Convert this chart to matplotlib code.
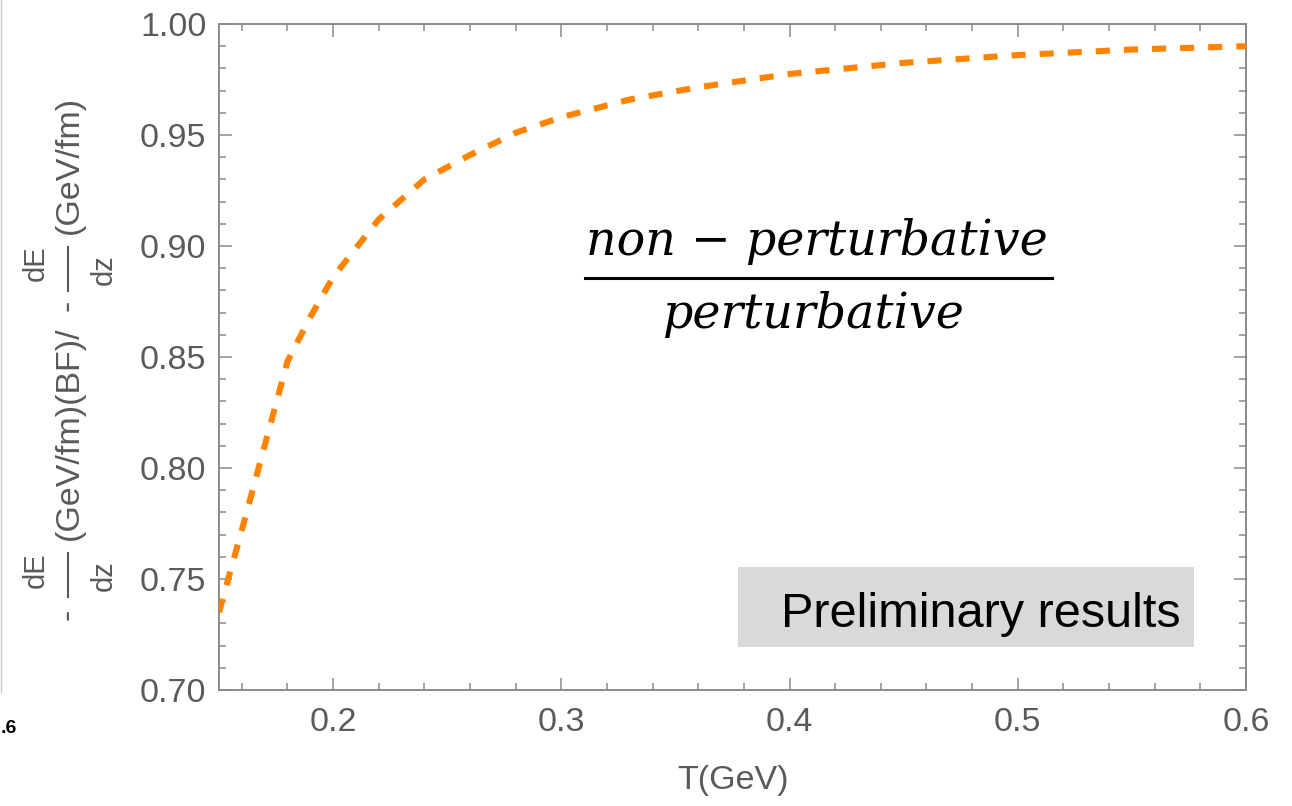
import matplotlib
matplotlib.use("Agg")
import matplotlib.pyplot as plt
from matplotlib.lines import Line2D
from matplotlib.patches import Rectangle
from matplotlib.ticker import MultipleLocator, FormatStrFormatter

# ---- data ----
T_values = [0.15, 0.16, 0.17, 0.18, 0.19, 0.20, 0.22, 0.24, 0.26, 0.28,
            0.30, 0.33, 0.36, 0.40, 0.45, 0.50, 0.55, 0.60]
ratio_values = [0.735, 0.772, 0.810, 0.848, 0.868, 0.886, 0.912, 0.930, 0.941,
                0.951, 0.958, 0.966, 0.9715, 0.9775, 0.9825, 0.986, 0.9885, 0.990]
x_label = "T(GeV)"
annotation_num = "non \u2212 perturbative"
annotation_den = "perturbative"
badge_text = "Preliminary results"

W, H = 1292, 806
fig = plt.figure(figsize=(W / 100, H / 100), dpi=100)
fig.patch.set_facecolor("white")


def fx(x):
    return x / W


def fy(y):
    return 1 - y / H


GRAY = "#5a5a5a"
SPINE = "#8a8a8a"
SANS = "Liberation Sans"

ax = fig.add_axes([fx(219), fy(690), (1246 - 219) / W, (690 - 24) / H])
ax.plot(T_values, ratio_values, color="#ff8200", lw=4.4, dashes=(2.3, 2.3),
        dash_capstyle="butt", zorder=3)
ax.set_xlim(0.15, 0.6)
ax.set_ylim(0.70, 1.00)

ax.xaxis.set_major_locator(MultipleLocator(0.1))
ax.xaxis.set_minor_locator(MultipleLocator(0.02))
ax.yaxis.set_major_locator(MultipleLocator(0.05))
ax.yaxis.set_minor_locator(MultipleLocator(0.01))
ax.xaxis.set_major_formatter(FormatStrFormatter("%.1f"))
ax.yaxis.set_major_formatter(FormatStrFormatter("%.2f"))

for s in ax.spines.values():
    s.set_color(SPINE)
    s.set_linewidth(1.4)

ax.tick_params(which="both", direction="in", top=True, right=True,
               color=SPINE, width=1.1)
ax.tick_params(which="major", length=9)
ax.tick_params(which="minor", length=5)
ax.tick_params(axis="x", which="major", pad=12, labelsize=24.5, labelcolor=GRAY)
ax.tick_params(axis="y", which="major", pad=9, labelsize=24.5, labelcolor=GRAY)
for lab in ax.get_xticklabels() + ax.get_yticklabels():
    lab.set_fontfamily(SANS)

ax.set_xlabel(x_label, fontsize=24.5, color=GRAY, family=SANS)
ax.xaxis.set_label_coords(0.5, -0.112)

# ---- composite rotated y label ----
def rtext(x, y, s, size):
    fig.text(fx(x), fy(y), s, rotation=90, ha="center", va="center",
             fontsize=size, color=GRAY, family=SANS)


def vbar(x, y0, y1):
    fig.add_artist(Line2D([fx(x), fx(x)], [fy(y0), fy(y1)], color=GRAY,
                          lw=1.5, transform=fig.transFigure))

FRAC = 21
# lower fraction
rtext(68, 614, "-", 24.5)
vbar(68, 553, 597)
rtext(36, 570, "dE", FRAC)
rtext(104, 576, "dz", FRAC)
rtext(69, 433, "(GeV/fm)(BF)/", 24.5)
rtext(68, 305, "-", 24.5)
# upper fraction
vbar(68, 247, 291)
rtext(36, 263, "dE", FRAC)
rtext(104, 270, "dz", FRAC)
rtext(69, 165, "(GeV/fm)", 24.5)

# ---- fraction annotation ----
num = fig.text(fx(817), fy(255), annotation_num, ha="center", va="baseline",
               fontsize=30, family="DejaVu Serif", style="italic", color="black")
den = fig.text(fx(814), fy(328), annotation_den, ha="center", va="baseline",
               fontsize=30, family="DejaVu Serif", style="italic", color="black")
fig.canvas.draw()
r = fig.canvas.get_renderer()
wnum = num.get_window_extent(r).width
scale = 30 * 461 / wnum
num.set_fontsize(scale)
den.set_fontsize(scale)
fig.add_artist(Line2D([fx(585), fx(1052)], [fy(278), fy(278)], color="black",
                      lw=2.2, transform=fig.transFigure))

# ---- preliminary badge ----
fig.add_artist(Rectangle((fx(738), fy(647)), (1194 - 738) / W, (647 - 567) / H,
                         transform=fig.transFigure, facecolor="#d9d9d9",
                         edgecolor="none", zorder=2))
fig.text(fx(781), fy(627), badge_text, ha="left", va="baseline", fontsize=35,
         family=SANS, color="black", zorder=3)

# ---- left-edge remnants of a neighbouring panel ----
fig.add_artist(Line2D([fx(1), fx(1)], [fy(0), fy(692)], color="#c8c8c8",
                      lw=1.0, transform=fig.transFigure))
fig.text(fx(1), fy(733), ".6", ha="left", va="baseline", fontsize=14,
         fontweight="bold", family=SANS, color="black")

fig.savefig("out.png", dpi=100)
